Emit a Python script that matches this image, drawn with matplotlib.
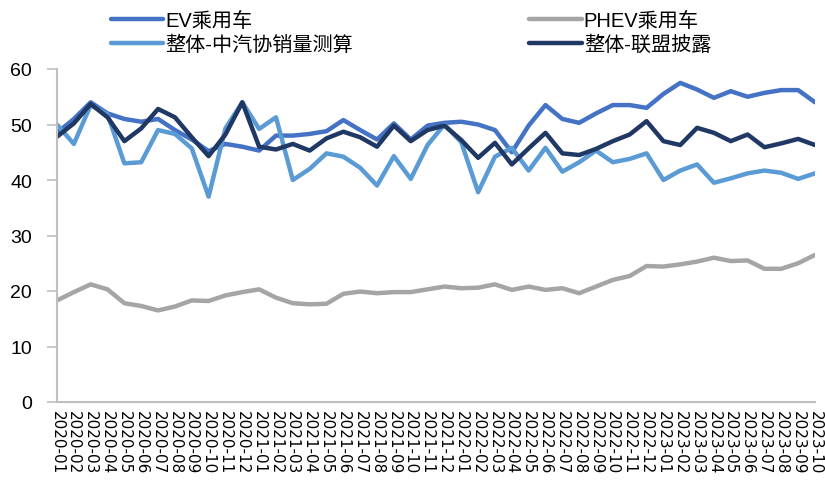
import matplotlib
matplotlib.use("Agg")
import matplotlib.pyplot as plt

plt.rcParams['font.family'] = ['Liberation Sans', 'Noto Sans CJK SC', 'DejaVu Sans']

# months 2020-01 .. 2023-10
months = []
for y in range(2020, 2024):
    for m in range(1, 13):
        if y == 2023 and m > 10:
            break
        months.append("%d-%02d" % (y, m))

ev = [48.5, 51.0, 54.0, 52.0, 51.0, 50.5, 51.0, 49.0, 47.3, 45.2,
      46.5, 46.0, 45.3, 48.0, 48.0, 48.3, 48.8, 50.8, 49.0, 47.3,
      50.2, 47.3, 49.8, 50.3, 50.5, 50.0, 49.0, 45.0, 49.8, 53.5,
      51.0, 50.3, 52.0, 53.5, 53.5, 53.0, 55.5, 57.5, 56.3, 54.8,
      56.0, 55.0, 55.7, 56.2, 56.2, 54.0]
phev = [18.3, 19.8, 21.2, 20.3, 17.8, 17.3, 16.5, 17.2, 18.3, 18.2,
        19.2, 19.8, 20.3, 18.8, 17.8, 17.6, 17.7, 19.5, 19.9, 19.6,
        19.8, 19.8, 20.3, 20.8, 20.5, 20.6, 21.2, 20.2, 20.8, 20.2,
        20.5, 19.6, 20.8, 22.0, 22.7, 24.5, 24.4, 24.8, 25.3, 26.0,
        25.4, 25.5, 24.0, 24.0, 25.0, 26.5]
caam = [50.0, 46.5, 53.5, 51.8, 43.0, 43.2, 49.0, 48.3, 45.7, 37.0,
        49.3, 54.0, 49.2, 51.3, 40.0, 42.0, 44.8, 44.2, 42.2, 39.0,
        44.3, 40.2, 46.3, 50.0, 46.8, 37.8, 44.2, 45.8, 41.7, 45.8,
        41.5, 43.2, 45.3, 43.2, 43.8, 44.8, 40.0, 41.7, 42.8, 39.5,
        40.3, 41.2, 41.7, 41.3, 40.2, 41.2]
cpca = [47.8, 50.2, 53.7, 51.3, 47.0, 49.3, 52.8, 51.3, 47.7, 44.3,
        48.2, 54.0, 46.0, 45.5, 46.5, 45.3, 47.5, 48.7, 47.7, 46.0,
        49.8, 47.0, 49.0, 49.8, 47.2, 44.0, 46.7, 42.8, 45.7, 48.5,
        44.8, 44.5, 45.6, 47.0, 48.2, 50.6, 47.0, 46.3, 49.4, 48.5,
        47.0, 48.2, 45.9, 46.6, 47.4, 46.3]

names = ["EV乘用车", "PHEV乘用车", "整体-中汽协销量测算", "整体-联盟披露"]
colors = ["#4472C4", "#A5A5A5", "#5B9BD5", "#203864"]

fig = plt.figure(figsize=(8.25, 5.02), dpi=100)
ax = fig.add_axes([57 / 825, 1 - 403 / 502, (815 - 57) / 825, (403 - 70) / 502])

x = list(range(len(months)))
lines = []
for vals, name, c in zip([ev, phev, caam, cpca], names, colors):
    ln, = ax.plot(x, vals, color=c, lw=3.2, label=name,
                  solid_joinstyle='round', solid_capstyle='round')
    lines.append(ln)

ax.set_xlim(0, len(months) - 1)
ax.set_ylim(0, 60)
ax.set_yticks(range(0, 61, 10))
ax.set_xticks(x)
ax.set_xticklabels(months, rotation=-90, fontsize=11,
                   family=['DejaVu Sans'])
ax.tick_params(axis='x', length=0, pad=6)
ax.tick_params(axis='y', length=7, color='#BFBFBF', width=1.2,
               labelsize=14, pad=11)
for s in ['top', 'right']:
    ax.spines[s].set_visible(False)
for s in ['left', 'bottom']:
    ax.spines[s].set_color('#BFBFBF')
    ax.spines[s].set_linewidth(1.5)

# legend: EV / PHEV on first row, the two totals on second row
order = [0, 2, 1, 3]
fig.legend([lines[i] for i in order], [names[i] for i in order],
           ncol=2, loc='upper left', bbox_to_anchor=(93 / 825, 1.012),
           frameon=False, handlelength=2.6,
           handletextpad=0.1, columnspacing=8.75, labelspacing=0.22,
           prop={'family': ['Liberation Sans', 'Noto Sans CJK SC'], 'size': 14.5})

fig.savefig("out.png", dpi=100)
